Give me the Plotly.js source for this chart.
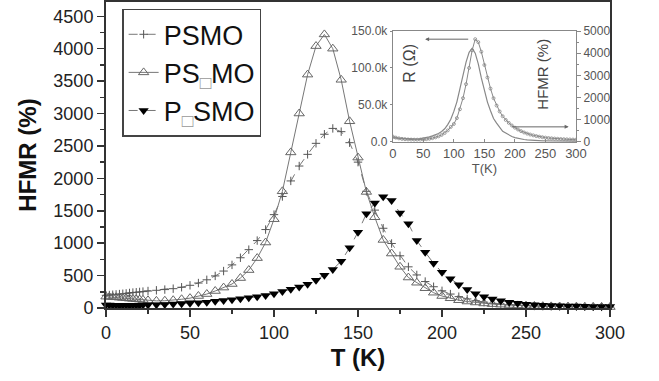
<!DOCTYPE html>
<html>
<head>
<meta charset="utf-8">
<script src="https://cdn.plot.ly/plotly-3.0.1.min.js"></script>
<style>html,body{margin:0;padding:0;background:#fff;}#chart{width:659px;height:381px;}</style>
</head>
<body>
<div id="chart"></div>
<script>
// Temperature grid (K) for the main panel
const T = [0,2,4,6,8,10,12,14,16,18,20,22,25,30,35,40,45,50,55,60,65,70,75,80,85,90,95,100,105,110,115,120,125,130,135,140,145,150,155,160,165,170,175,180,185,190,195,200,205,210,215,220,225,230,235,240,245,250,255,260,265,270,275,280,285,290,295,300];

// HFMR (%) series
const psmo = [195,200,205,210,215,220,225,232,238,243,248,253,262,273,284,298,320,350,385,435,495,570,665,775,900,1040,1210,1440,1720,1960,2190,2370,2540,2680,2770,2720,2550,2250,1800,1510,1230,995,805,635,510,408,328,265,215,175,140,112,90,72,60,50,42,36,31,28,25,23,21,20,19,18,17,16];
const psxmo = [175,172,168,165,160,155,150,145,140,135,130,125,118,110,112,120,135,152,185,215,262,315,370,462,585,770,1010,1370,1800,2400,3000,3600,4040,4220,4000,3520,2880,2320,1790,1400,1050,840,636,470,390,305,236,185,150,120,100,85,70,60,52,46,40,35,31,28,25,23,21,20,18,17,16,15];
const pxsmo = [45,45,44,44,43,43,43,43,43,43,44,45,47,50,55,60,66,74,82,90,103,116,127,142,158,172,193,219,255,288,322,365,428,505,595,722,930,1170,1455,1620,1715,1660,1465,1300,1040,860,690,550,450,360,285,220,175,140,112,88,72,58,50,44,39,35,32,29,27,25,23,22];

// Inset: resistance (Ohm)
const Tin = [0,5,10,15,20,25,30,35,40,45,50,55,60,65,70,75,80,85,90,95,100,105,110,115,120,125,130,135,140,145,150,155,160,165,170,175,180,185,190,195,200,205,210,215,220,225,230,235,240,245,250,255,260,265,270,275,280,285,290,295,300];
const R = [7000,5500,4500,3800,3300,3000,2800,2700,2700,2800,3000,3400,4000,4800,5900,7300,9200,11800,15300,20000,24000,32000,44000,59000,78000,100000,124000,139000,135000,122000,104000,87000,72000,59000,49000,41000,34500,29500,25500,22000,19000,16500,14300,12500,11000,9700,8600,7600,6800,6100,5500,5000,4600,4200,3900,3600,3400,3200,3000,2850,2700];

const names = ['PSMO', 'PS<sub><span style="color:#999">□</span></sub>MO', 'P<sub><span style="color:#999">□</span></sub>SMO'];
const xTicks = [0,50,100,150,200,250,300];
const rTicks = [0,50000,100000,150000];
const rTickText = ['0.0','50.0k','100.0k','150.0k'];

const traces = [
  {x:T, y:psmo, name:names[0], type:'scatter', mode:'lines+markers', cliponaxis:false,
   line:{color:'#777', width:1, dash:'dash'},
   marker:{symbol:'cross-thin', size:6, line:{color:'#555', width:1}}},
  {x:T, y:psxmo, name:names[1], type:'scatter', mode:'lines+markers', cliponaxis:false,
   line:{color:'#777', width:1},
   marker:{symbol:'triangle-up-open', size:9, color:'#666', line:{color:'#666', width:1}}},
  {x:T, y:pxsmo, name:names[2], type:'scatter', mode:'lines+markers', cliponaxis:false,
   line:{color:'#777', width:1, dash:'dash'},
   marker:{symbol:'triangle-down', size:9, color:'#000'}},
  {x:Tin, y:R, xaxis:'x2', yaxis:'y2', type:'scatter', mode:'lines+markers', showlegend:false,
   line:{color:'#888', width:1}, marker:{symbol:'circle-open', size:3, color:'#888', line:{width:0.8}}},
  {x:T, y:psxmo, xaxis:'x2', yaxis:'y3', type:'scatter', mode:'lines', showlegend:false,
   line:{color:'#888', width:1.2}}
];

const tickFont = {family:'Liberation Sans, Arial, sans-serif', size:18, color:'#222'};
const inFont = {family:'Liberation Sans, Arial, sans-serif', size:12, color:'#555'};

const layout = {
  width:659, height:381,
  margin:{l:106, r:49, t:2, b:73},
  paper_bgcolor:'#fff', plot_bgcolor:'#fff',
  showlegend:true,
  legend:{x:0.032, y:0.978, xanchor:'left', yanchor:'top', bgcolor:'#fff',
    bordercolor:'#444', borderwidth:1.5,
    font:{family:'Liberation Sans, Arial, sans-serif', size:27, color:'#111'},
    tracegroupgap:0, itemwidth:30, entrywidth:100, entrywidthmode:'pixels'},
  xaxis:{domain:[0,1], range:[0,300], tickvals:xTicks, ticks:'outside', ticklen:7, tickwidth:1.5,
    tickcolor:'#333', showline:true, linecolor:'#333', linewidth:2, mirror:true,
    showgrid:false, zeroline:false, tickfont:tickFont,
    minor:{dtick:25, ticks:'outside', ticklen:4, tickwidth:1.5, tickcolor:'#333', showgrid:false},
    title:{text:'<b>T (K)</b>', font:{family:'Liberation Sans, Arial, sans-serif', size:24, color:'#111'}, standoff:8}},
  yaxis:{domain:[0,1], range:[0,4720], dtick:500, ticks:'outside', ticklen:7, tickwidth:1.5,
    tickcolor:'#333', showline:true, linecolor:'#333', linewidth:2, mirror:true,
    showgrid:false, zeroline:false, tickfont:tickFont,
    minor:{dtick:250, ticks:'outside', ticklen:4, tickwidth:1.5, tickcolor:'#333', showgrid:false},
    title:{text:'<b>HFMR (%)</b>', font:{family:'Liberation Sans, Arial, sans-serif', size:24, color:'#111'}, standoff:10}},
  xaxis2:{domain:[0.569,0.9325], anchor:'y2', range:[0,300], tickvals:xTicks, ticks:'inside', ticklen:3,
    tickcolor:'#888', showline:true, linecolor:'#888', linewidth:1, mirror:true, showgrid:false, zeroline:false,
    tickfont:{family:'Liberation Sans, Arial, sans-serif', size:13, color:'#555'},
    title:{text:'T(K)', font:{family:'Liberation Sans, Arial, sans-serif', size:13, color:'#555'}, standoff:0}},
  yaxis2:{domain:[0.5435,0.905], anchor:'x2', range:[0,150000], tickvals:rTicks, ticktext:rTickText,
    ticks:'outside', ticklen:2, tickcolor:'#888', showline:true, linecolor:'#888', linewidth:1,
    showgrid:false, zeroline:false, tickfont:inFont},
  yaxis3:{overlaying:'y2', anchor:'x2', side:'right', range:[0,5000], dtick:1000,
    ticks:'outside', ticklen:4, tickcolor:'#888', showline:true, linecolor:'#888', linewidth:1,
    showgrid:false, zeroline:false, tickfont:{family:'Liberation Sans, Arial, sans-serif', size:12, color:'#555'},
    minor:{dtick:500, ticks:'outside', ticklen:2, tickcolor:'#888'}},
  annotations:[
    {x:53, y:139000, xref:'x2', yref:'y2', ax:126, ay:139000, axref:'x2', ayref:'y2',
     showarrow:true, arrowhead:2, arrowsize:0.8, arrowwidth:1, arrowcolor:'#666', text:''},
    {x:288, y:670, xref:'x2', yref:'y3', ax:193, ay:670, axref:'x2', ayref:'y3',
     showarrow:true, arrowhead:2, arrowsize:0.8, arrowwidth:1, arrowcolor:'#666', text:''},
    {x:28, y:107000, xref:'x2', yref:'y2', text:'R (Ω)', showarrow:false, textangle:-90,
     font:{family:'Liberation Sans, Arial, sans-serif', size:16, color:'#444'}},
    {x:246, y:3030, xref:'x2', yref:'y3', text:'HFMR (%)', showarrow:false, textangle:-90,
     font:{family:'Liberation Sans, Arial, sans-serif', size:15, color:'#444'}}
  ]
};

Plotly.newPlot('chart', traces, layout, {displayModeBar:false, staticPlot:true});
</script>
</body>
</html>
